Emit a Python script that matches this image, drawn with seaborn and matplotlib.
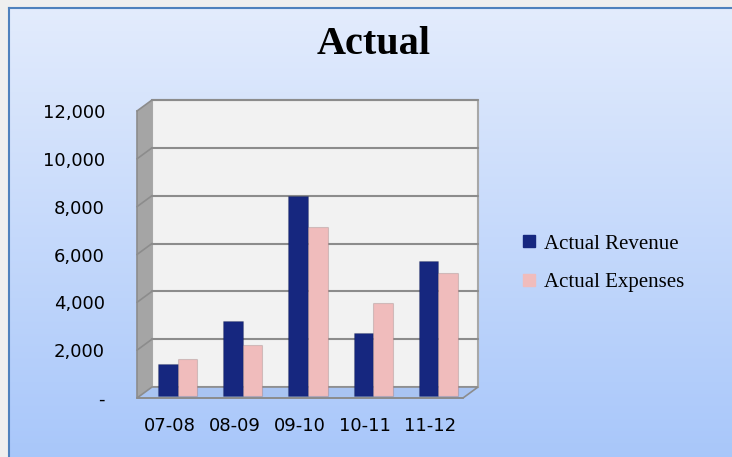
import numpy as np
import pandas as pd
import seaborn as sns
import matplotlib.pyplot as plt
import matplotlib.transforms as mtransforms
from matplotlib.patches import Polygon, Rectangle
from matplotlib.lines import Line2D
from matplotlib.ticker import FixedLocator

years = ['07-08', '08-09', '09-10', '10-11', '11-12']
revenue = [1350, 3150, 8350, 2650, 5650]
expenses = [1550, 2150, 7050, 3900, 5150]
series = ['Actual Revenue', 'Actual Expenses']
colors = ['#16277f', '#f0bcbc']
yticks = [0, 2000, 4000, 6000, 8000, 10000, 12000]
ytick_labels = ['-', '2,000', '4,000', '6,000', '8,000', '10,000', '12,000']

df = pd.DataFrame({
    'year': years * 2,
    'value': revenue + expenses,
    'series': [series[0]] * len(years) + [series[1]] * len(years),
})

sns.set_style('white')
plt.rcParams['font.family'] = ['DejaVu Sans']
plt.rcParams['text.color'] = 'black'
plt.rcParams['xtick.color'] = 'black'
plt.rcParams['ytick.color'] = 'black'

fig = plt.figure(figsize=(7.32, 4.57), dpi=100)
fig.patch.set_facecolor('#efefef')

# gradient chart area
W, H = 732, 457
bg = fig.add_axes([9 / W, 0, 1 - 9 / W, 1 - 8 / H], zorder=-10)
t = np.linspace(0, 1, 256)[:, None, None]
top = np.array([0.89, 0.925, 0.99])
bottom = np.array([0.66, 0.78, 0.98])
bg.imshow(top * (1 - t) + bottom * t, aspect='auto', extent=[0, 1, 0, 1])
bg.set_xticks([])
bg.set_yticks([])
for side, s in bg.spines.items():
    s.set_color('#4f81bd')
    s.set_linewidth(1.5)
    s.set_visible(side in ('left', 'top'))

# plot area (front plane) with fake 3D walls
ax = fig.add_axes([137 / W, (H - 398) / H, 326 / W, 287 / H])
ax.set_facecolor('none')
dx, dy = 15 / 326, 11 / 287
wall_kw = dict(transform=ax.transAxes, clip_on=False)
ax.add_patch(Rectangle((dx, dy), 1, 1, fc='#f2f2f2', ec='#a8a8a8', lw=1.5, zorder=0, **wall_kw))
ax.add_patch(Polygon([(0, 0), (dx, dy), (dx, 1 + dy), (0, 1)], fc='#a5a5a5', ec='none', zorder=0, **wall_kw))
ax.add_patch(Polygon([(0, 0), (1, 0), (1 + dx, dy), (dx, dy)], fc='#a9c4f2', ec='#8c8c8c', lw=1.2, zorder=0, **wall_kw))
for v in yticks[1:]:
    yf = v / 12000
    ax.add_line(Line2D([dx, 1 + dx], [yf + dy, yf + dy], color='#8c8c8c', lw=1.5, zorder=0.5, **wall_kw))
    ax.add_line(Line2D([0, dx], [yf, yf + dy], color='#8c8c8c', lw=1.2, zorder=0.5, **wall_kw))

sns.barplot(data=df, x='year', y='value', hue='series', palette=colors,
            width=0.6, saturation=1, linewidth=0.8, edgecolor='#00000022',
            ax=ax, legend=False, zorder=2)

# bars sit at mid-depth of the box
mid = mtransforms.offset_copy(ax.transData, fig=fig, x=8, y=2, units='dots')
for bars in ax.containers:
    for p in bars:
        p.set_transform(mid)

ax.set_xlim(-0.5, 4.5)
ax.set_ylim(0, 12000)
ax.set_yticks(yticks)
ax.set_yticklabels(ytick_labels, fontsize=13)
ax.set_xlabel('')
ax.set_ylabel('')
ax.tick_params(axis='x', length=0, labelsize=13, pad=14)
ax.xaxis.set_minor_locator(FixedLocator(np.arange(-0.5, 5, 1)))
ax.tick_params(axis='x', which='minor', length=5, color='#8c8c8c', direction='out')
ax.tick_params(axis='y', length=5, color='#8c8c8c', direction='out', pad=18)
for side in ['top', 'right']:
    ax.spines[side].set_visible(False)
for side in ['left', 'bottom']:
    ax.spines[side].set_color('#8c8c8c')
    ax.spines[side].set_linewidth(1.2)

fig.text(374 / W, 1 - 45 / H, 'Actual', ha='center', va='center', color='black',
         fontsize=29, fontweight='bold', family='Liberation Serif')

handles = [Line2D([], [], marker='s', ls='none', markersize=9, color=c) for c in colors]
fig.legend(handles, series, loc='center left', bbox_to_anchor=(500 / W, 1 - 263 / H),
           frameon=False, prop={'family': 'Liberation Serif', 'size': 15},
           handletextpad=0.2, labelspacing=0.9, handlelength=1)

fig.savefig('out.png', dpi=100)
